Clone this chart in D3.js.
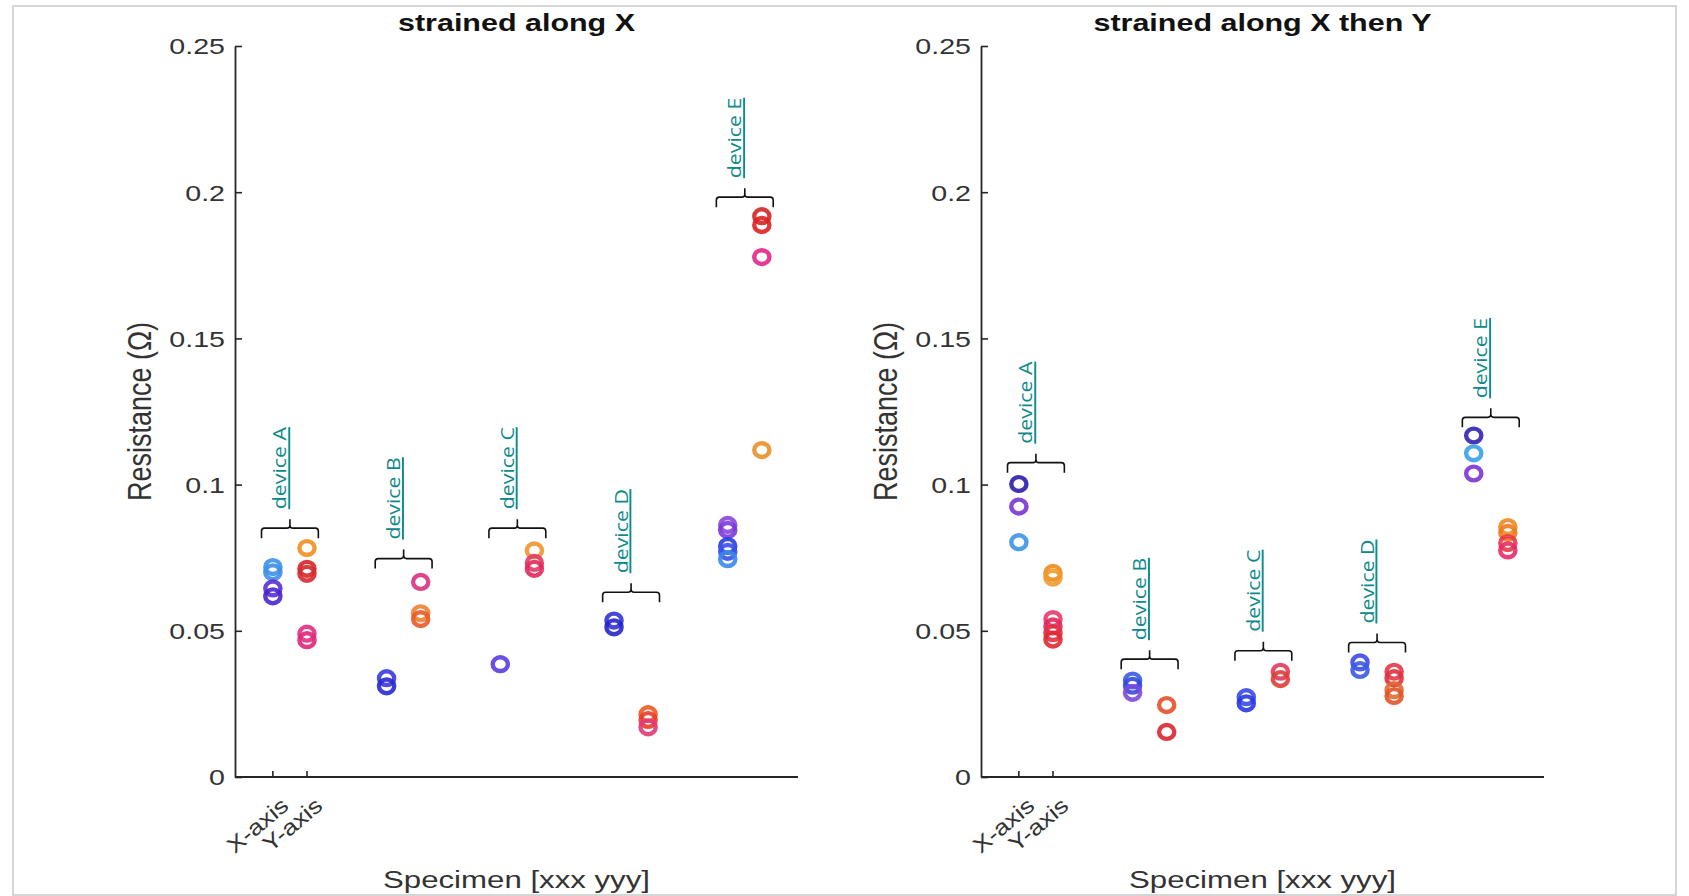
<!DOCTYPE html>
<html>
<head>
<meta charset="utf-8">
<script src="https://cdn.jsdelivr.net/npm/d3@7"></script>
<style>
  html, body { margin: 0; padding: 0; background: #fff; }
  svg { display: block; }
</style>
</head>
<body>
<svg id="chart" width="1689" height="896"></svg>
<script>
// ---------------- data ----------------
const devices = ["device A", "device B", "device C", "device D", "device E"];
const axisCats = ["X-axis", "Y-axis"];
const yTicks = [0, 0.05, 0.1, 0.15, 0.2, 0.25];
const titles = ["strained along X", "strained along X then Y"];
const xLabel = "Specimen [xxx yyy]";
const yLabel = "Resistance (\u03A9)";

// Panel 1: strained along X  (values per device, measured along X-axis / Y-axis)
const p1X = [
  [0.0718, 0.0700, 0.0645, 0.0618],
  [0.0338, 0.0310],
  [0.0386],
  [0.0535, 0.0512],
  [0.0862, 0.0845, 0.0790, 0.0770, 0.0745]
];
const p1Y = [
  [0.0783, 0.0712, 0.0695, 0.0490, 0.0468],
  [0.0667, 0.0560, 0.0540],
  [0.0775, 0.0732, 0.0712],
  [0.0215, 0.0195, 0.0170],
  [0.1918, 0.1888, 0.1778, 0.1118]
];
const p1Bracket = [0.0851, 0.0747, 0.0851, 0.0632, 0.1983];

// Panel 2: strained along X then Y
const p2X = [
  [0.1002, 0.0925, 0.0803],
  [0.0330, 0.0312, 0.0288],
  [0.0273, 0.0252],
  [0.0392, 0.0366],
  [0.1168, 0.1107, 0.1038]
];
const p2Y = [
  [0.0698, 0.0682, 0.0540, 0.0515, 0.0492, 0.0470],
  [0.0246, 0.0154],
  [0.0360, 0.0335],
  [0.0360, 0.0338, 0.0297, 0.0277],
  [0.0855, 0.0835, 0.0800, 0.0775]
];
const p2Bracket = [0.1075, 0.0403, 0.0432, 0.0460, 0.1230];

// marker colours (same shape as the value arrays)
const c1X = [
  ["#3c92e6", "#3f8ee8", "#5a2fd6", "#4a26cc"],
  ["#3a3ae0", "#2a2ad0"],
  ["#5b3be0"],
  ["#3333d8", "#2626c8"],
  ["#8a45dc", "#7a3ad8", "#2a3ee0", "#3a4eea", "#3a8ae8"]
];
const c1Y = [
  ["#f0901e", "#d9252a", "#d42a30", "#e0307e", "#e0287a"],
  ["#d8337f", "#ee8030", "#e85a28"],
  ["#f0962c", "#e23a6a", "#e02a5a"],
  ["#ee5a22", "#e83c2c", "#e03a78"],
  ["#d02828", "#e02020", "#e0288a", "#e8902a"]
];
const c2X = [
  ["#2e1ea8", "#7a34d4", "#3c94e4"],
  ["#3a5ae4", "#3548e0", "#7a48dc"],
  ["#3a4ae6", "#2838e0"],
  ["#3c4ce8", "#3a5ae8"],
  ["#3222b0", "#3aa0e8", "#7a34d4"]
];
const c2Y = [
  ["#ee8a1e", "#f09a2a", "#e83a6a", "#e2285a", "#e03048", "#e02a30"],
  ["#e8502e", "#d82830"],
  ["#e23a5a", "#d84038"],
  ["#e03a4a", "#e03040", "#e06a30", "#e05528"],
  ["#f08a22", "#f07a20", "#e83a48", "#e82a68"]
];

const panels = [
  { title: titles[0], xv: p1X, yv: p1Y, xc: c1X, yc: c1Y, br: p1Bracket, left: 235 },
  { title: titles[1], xv: p2X, yv: p2Y, xc: c2X, yc: c2Y, br: p2Bracket, left: 981 }
];

// ---------------- layout ----------------
const svg = d3.select("#chart");
const plotW = 563, plotTop = 46, plotBottom = 777;
const stretch = 1.3; // horizontal stretch of the original figure's text
const axisColor = "#262626";
const textColor = "#333333";
const teal = "#0e8a8a";

// frame
svg.append("rect").attr("x", 13).attr("y", 6).attr("width", 1663).attr("height", 889)
  .attr("fill", "none").attr("stroke", "#d6d6d6").attr("stroke-width", 2);

const y = d3.scaleLinear().domain([0, 0.25]).range([plotBottom, plotTop]);
const xPos = d3.scaleLinear().domain([0.667, 5.618]).range([0, plotW]);
const offset = { "X-axis": 0, "Y-axis": 0.3 };

panels.forEach(p => {
  const g = svg.append("g").attr("transform", `translate(${p.left},0)`);

  // y axis
  const yAxis = d3.axisLeft(y).tickValues(yTicks).tickSize(0).tickPadding(10);
  const ya = g.append("g").call(yAxis);
  ya.select(".domain").attr("stroke", axisColor).attr("stroke-width", 1.8);
  ya.selectAll(".tick text").remove();
  ya.selectAll(".tick").each(function(d) {
    const t = d3.select(this);
    t.append("line").attr("x1", 0).attr("x2", 7).attr("stroke", axisColor).attr("stroke-width", 1.6);
    t.append("text")
      .attr("transform", `translate(-10,0) scale(${stretch},1)`)
      .attr("text-anchor", "end").attr("dy", "0.36em")
      .attr("fill", textColor)
      .style("font-family", "'Liberation Sans', Arial, sans-serif")
      .style("font-size", "22px")
      .text(d === 0 ? "0" : String(+d.toFixed(2)));
  });

  // x axis
  const xa = g.append("g").attr("transform", `translate(0,${plotBottom})`);
  xa.append("line").attr("x1", 0).attr("x2", plotW).attr("stroke", axisColor).attr("stroke-width", 1.8);
  axisCats.forEach(cat => {
    const xx = xPos(1 + offset[cat]);
    xa.append("line").attr("x1", xx).attr("x2", xx).attr("y1", 0).attr("y2", -6)
      .attr("stroke", axisColor).attr("stroke-width", 1.6);
    xa.append("text")
      .attr("transform", `translate(${xx + 17},${31}) rotate(-40) scale(1.18,1)`)
      .attr("text-anchor", "end")
      .attr("fill", textColor)
      .style("font-family", "'Liberation Sans', Arial, sans-serif")
      .style("font-size", "22px")
      .text(cat);
  });

  // titles & axis labels
  g.append("text")
    .attr("transform", `translate(${plotW / 2},31) scale(1.27,1)`)
    .attr("text-anchor", "middle").attr("fill", "#111")
    .style("font-family", "'Liberation Sans', Arial, sans-serif")
    .style("font-size", "24px").style("font-weight", "bold")
    .text(p.title);
  g.append("text")
    .attr("transform", `translate(${plotW / 2},888) scale(${stretch},1)`)
    .attr("text-anchor", "middle").attr("fill", textColor)
    .style("font-family", "'Liberation Sans', Arial, sans-serif")
    .style("font-size", "24px")
    .text(xLabel);
  g.append("text")
    .attr("transform", `translate(-84,${(plotTop + plotBottom) / 2}) rotate(-90) scale(1,1.2)`)
    .attr("text-anchor", "middle").attr("fill", textColor)
    .style("font-family", "'Liberation Sans', Arial, sans-serif")
    .style("font-size", "27px")
    .text(yLabel);

  // markers
  const pts = [];
  devices.forEach((dev, i) => {
    p.xv[i].forEach((v, k) => pts.push({ x: i + 1, v, c: p.xc[i][k] }));
    p.yv[i].forEach((v, k) => pts.push({ x: i + 1 + offset["Y-axis"], v, c: p.yc[i][k] }));
  });
  g.append("g").selectAll("ellipse").data(pts).join("ellipse")
    .attr("cx", d => xPos(d.x)).attr("cy", d => y(d.v))
    .attr("rx", 7.6).attr("ry", 6.9)
    .attr("fill", "none").attr("stroke", d => d.c).attr("stroke-width", 4.4)
    .attr("stroke-opacity", 0.9);

  // brackets + labels
  devices.forEach((dev, i) => {
    const x1 = xPos(i + 1 - 0.1), x2 = xPos(i + 1.3 + 0.1);
    const cx = (xPos(i + 1) + xPos(i + 1.3)) / 2;
    const yy = y(p.br[i]);
    const path = d3.path();
    path.moveTo(x1, yy + 10);
    path.lineTo(x1, yy + 3);
    path.quadraticCurveTo(x1, yy, x1 + 3, yy);
    path.lineTo(cx - 3, yy);
    path.quadraticCurveTo(cx, yy, cx, yy - 3);
    path.lineTo(cx, yy - 9);
    path.moveTo(cx, yy - 3);
    path.quadraticCurveTo(cx, yy, cx + 3, yy);
    path.lineTo(x2 - 3, yy);
    path.quadraticCurveTo(x2, yy, x2, yy + 3);
    path.lineTo(x2, yy + 10);
    g.append("path").attr("d", path.toString())
      .attr("fill", "none").attr("stroke", "#111").attr("stroke-width", 1.6);
    g.append("text")
      .attr("transform", `translate(${cx - 3.5},${yy - 19}) rotate(-90) scale(1.12,1)`)
      .attr("text-anchor", "start").attr("fill", teal)
      .style("font-family", "'Open Sans', sans-serif")
      .style("font-size", "19px")
      .style("text-decoration", "underline")
      .text(dev);
  });
});
</script>
</body>
</html>
